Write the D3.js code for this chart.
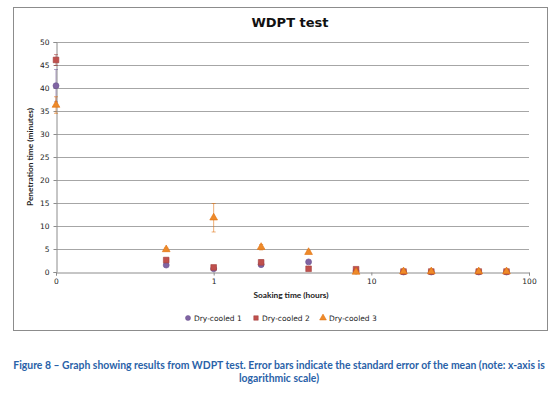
<!DOCTYPE html>
<html>
<head>
<meta charset="utf-8">
<script src="https://cdn.jsdelivr.net/npm/d3@7"></script>
<style>
  body { margin: 0; background: #fff; }
  svg { display: block; }
</style>
</head>
<body>
<svg id="chart" width="557" height="396"></svg>
<script>
// soaking time (hours), log scale
const hours = [0.1, 0.5, 1, 2, 4, 8, 16, 24, 48, 72];
const dryCooled1 = [40.5, 1.5, 0.7, 1.6, 2.2, 0.2, 0, 0, 0, 0];
const dryCooled2 = [46.1, 2.6, 1.0, 2.1, 0.7, 0.6, 0.1, 0.1, 0.1, 0.1];
const dryCooled3 = [36.3, 4.9, 11.8, 5.4, 4.3, 0.0, 0.1, 0.1, 0.1, 0.1];
const err1 = [3.5, 0.3, 0.2, 0.4, 0.3, 0.1, 0, 0, 0, 0];
const err2 = [1.2, 0.4, 0.2, 0.5, 0.1, 0.2, 0, 0, 0, 0];
const err3 = [1.8, 0.3, 3.1, 0.6, 0.3, 0.1, 0, 0, 0, 0];
const seriesNames = ["Dry-cooled 1", "Dry-cooled 2", "Dry-cooled 3"];
const yTicks = [0, 5, 10, 15, 20, 25, 30, 35, 40, 45, 50];
const xTicks = [0.1, 1, 10, 100];
const xTickLabels = ["0", "1", "10", "100"];

const colors = ["#8064a2", "#c0504d", "#ee8a2a"];
const strokes = ["#6a5290", "#a33f3c", "#e06e0a"];
const shapes = [d3.symbolCircle, d3.symbolSquare, d3.symbolTriangle];
const sizes = [28, 32, 26];

const svg = d3.select("#chart");

// chart border
svg.append("rect")
  .attr("x", 13.5).attr("y", 7.5)
  .attr("width", 534).attr("height", 323)
  .attr("fill", "#fff").attr("stroke", "#8c8c8c");

const x = d3.scaleLog().domain([0.1, 100]).range([56, 529]);
const y = d3.scaleLinear().domain([0, 50]).range([272, 42]);

// gridlines
svg.append("g")
  .selectAll("line")
  .data(yTicks.filter(d => d > 0))
  .enter().append("line")
  .attr("x1", x(0.1)).attr("x2", x(100))
  .attr("y1", d => Math.round(y(d)) + 0.5).attr("y2", d => Math.round(y(d)) + 0.5)
  .attr("stroke", "#a6a6a6");

const yAxis = svg.append("g")
  .attr("transform", `translate(${x(0.1) + 0.5},0)`)
  .call(d3.axisLeft(y).tickValues(yTicks).tickSize(3).tickPadding(4));

const xAxis = svg.append("g")
  .attr("transform", `translate(0,${y(0) + 0.5})`)
  .call(d3.axisBottom(x).tickValues(xTicks).tickSize(3).tickPadding(3)
    .tickFormat((d, i) => xTickLabels[i]));

[yAxis, xAxis].forEach(a => {
  a.select(".domain").attr("stroke", "#8c8c8c");
  a.selectAll(".tick line").attr("stroke", "#8c8c8c");
  a.selectAll("text")
    .attr("fill", "#222")
    .style("font-family", "DejaVu Sans")
    .style("font-size", "7.5px");
});

// series
const allSeries = [dryCooled1, dryCooled2, dryCooled3];
const allErrs = [err1, err2, err3];

allSeries.forEach((values, s) => {
  const g = svg.append("g");
  const pts = hours.map((h, i) => ({h: h, v: values[i], e: allErrs[s][i]}));

  // error bars
  const eb = g.selectAll(".err").data(pts.filter(d => d.e > 0)).enter().append("g");
  eb.append("line")
    .attr("x1", d => x(d.h)).attr("x2", d => x(d.h))
    .attr("y1", d => y(d.v + d.e)).attr("y2", d => y(d.v - d.e))
    .attr("stroke", strokes[s]).attr("stroke-width", 0.8).attr("opacity", 0.7);
  [1, -1].forEach(sign => {
    eb.append("line")
      .attr("x1", d => x(d.h) - 2).attr("x2", d => x(d.h) + 2)
      .attr("y1", d => y(d.v + sign * d.e)).attr("y2", d => y(d.v + sign * d.e))
      .attr("stroke", strokes[s]).attr("stroke-width", 0.8).attr("opacity", 0.7);
  });

  g.selectAll(".pt").data(pts).enter().append("path")
    .attr("d", d3.symbol().type(shapes[s]).size(sizes[s]))
    .attr("transform", d => `translate(${x(d.h)},${y(d.v)})`)
    .attr("fill", colors[s])
    .attr("stroke", strokes[s])
    .attr("stroke-width", 0.6);
});

// title
svg.append("text")
  .attr("x", 290).attr("y", 27)
  .attr("text-anchor", "middle")
  .style("font-family", "DejaVu Sans")
  .style("font-weight", "bold")
  .style("font-size", "13px")
  .attr("fill", "#111")
  .text("WDPT test");

// axis titles
svg.append("text")
  .attr("transform", "translate(33,157) rotate(-90)")
  .attr("text-anchor", "middle")
  .style("font-family", "Lato")
  .style("font-weight", "bold")
  .style("font-size", "8.3px")
  .attr("fill", "#222")
  .text("Penetration time (minutes)");

svg.append("text")
  .attr("x", 291).attr("y", 298)
  .attr("text-anchor", "middle")
  .style("font-family", "Lato")
  .style("font-weight", "bold")
  .style("font-size", "8.3px")
  .attr("fill", "#222")
  .text("Soaking time (hours)");

// legend
const legendX = [188, 256, 323];
seriesNames.forEach((name, s) => {
  svg.append("path")
    .attr("d", d3.symbol().type(shapes[s]).size(20))
    .attr("transform", `translate(${legendX[s]},318)`)
    .attr("fill", colors[s]).attr("stroke", strokes[s]).attr("stroke-width", 0.5);
  svg.append("text")
    .attr("x", legendX[s] + 6).attr("y", 321)
    .style("font-family", "DejaVu Sans")
    .style("font-size", "7.5px")
    .attr("fill", "#222")
    .text(name);
});

// caption
const capLines = [
  "Figure 8 \u2013 Graph showing results from WDPT test. Error bars indicate the standard error of the mean (note: x-axis is",
  "logarithmic scale)"
];
const cap = svg.append("g");
capLines.forEach((line, i) => {
  cap.append("text")
    .attr("x", 279).attr("y", 369 + i * 13)
    .attr("text-anchor", "middle")
    .style("font-family", "Lato")
    .style("font-weight", "bold")
    .style("font-size", "10px")
    .attr("fill", "#2a62a8")
    .text(line);
});
// fit first caption line to the reference width
const firstLen = cap.select("text").node().getComputedTextLength();
const fs = 10 * 532 / firstLen;
cap.selectAll("text").style("font-size", fs + "px");
</script>
</body>
</html>
